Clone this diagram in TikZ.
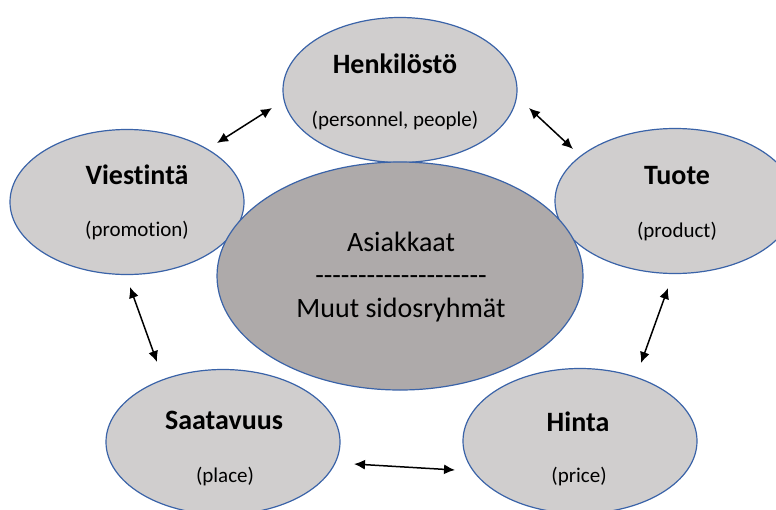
\documentclass[tikz,border=0pt]{standalone}
\usepackage{fontspec}
\setmainfont{Carlito}[Ligatures=NoCommon]
\usetikzlibrary{shapes.geometric,arrows.meta}

\definecolor{satfill}{HTML}{D0CECE}
\definecolor{corefill}{HTML}{AEAAAA}
\definecolor{rim}{HTML}{3A63A8}

% a row of hyphens kept apart so they are not joined into dashes
\newcommand{\hyphenrow}[1]{\foreach \k in {1,...,#1}{-\kern0pt}}

\tikzset{
  sat/.style={ellipse, draw=rim, fill=satfill, line width=1.2pt,
              minimum width=234pt, minimum height=145pt, inner sep=0pt},
  core/.style={ellipse, draw=rim, fill=corefill, line width=1.2pt,
               minimum width=366pt, minimum height=228pt, inner sep=0pt},
  title/.style={anchor=base, inner sep=0pt, font=\fontsize{28}{34}\selectfont\bfseries},
  sub/.style={anchor=base, inner sep=0pt, font=\fontsize{21}{25}\selectfont},
  coretext/.style={anchor=base, inner sep=0pt, font=\fontsize{28}{34}\selectfont},
  link/.style={line width=1.5pt, {Latex[length=11pt,width=10pt]}-{Latex[length=11pt,width=10pt]}}
}

\begin{document}
\begin{tikzpicture}[x=1pt, y=-1pt]
  \useasboundingbox (0,0) rectangle (776,509);
  \clip (0,0) rectangle (776,509);

  % outer ellipses
  \node[sat] (henk)  at (400,90)  {};
  \node[sat] (viest) at (127,202) {};
  \node[sat, minimum width=240pt] (tuote) at (675,201) {};
  \node[sat] (saat)  at (223,442) {};
  \node[sat] (hinta) at (580,441) {};

  % central ellipse
  \node[core] (core) at (400,276) {};

  % texts
  \node[title] (henkT)  at (395,73)  {Henkilöstö};
  \node[sub]   (henkS)  at (395,126) {(personnel, people)};
  \node[title] (viestT) at (137,184) {Viestintä};
  \node[sub]   (viestS) at (137,236) {(promotion)};
  \node[title] (tuoteT) at (677,184) {Tuote};
  \node[sub]   (tuoteS) at (677,237) {(product)};
  \node[title] (saatT)  at (224,429) {Saatavuus};
  \node[sub]   (saatS)  at (225,482) {(place)};
  \node[title] (hintaT) at (578,431) {Hinta};
  \node[sub]   (hintaS) at (579,482) {(price)};

  \node[coretext] (coreA) at (401,251) {Asiakkaat};
  \node[coretext] (coreD) at (401,284) {\hyphenrow{20}};
  \node[coretext] (coreB) at (401,317) {Muut sidosryhmät};

  % arrow end points
  \coordinate (a1) at (217,143);
  \coordinate (b1) at (272,108);
  \coordinate (a2) at (529,108);
  \coordinate (b2) at (573,149);
  \coordinate (a3) at (130,287);
  \coordinate (b3) at (157,362);
  \coordinate (a4) at (668,288);
  \coordinate (b4) at (641,363);
  \coordinate (a5) at (354,464);
  \coordinate (b5) at (455,470);

  % two-way links between the outer ellipses
  \draw[link] (a1) -- (b1);
  \draw[link] (a2) -- (b2);
  \draw[link] (a3) -- (b3);
  \draw[link] (a4) -- (b4);
  \draw[link] (a5) -- (b5);
\end{tikzpicture}
\end{document}
